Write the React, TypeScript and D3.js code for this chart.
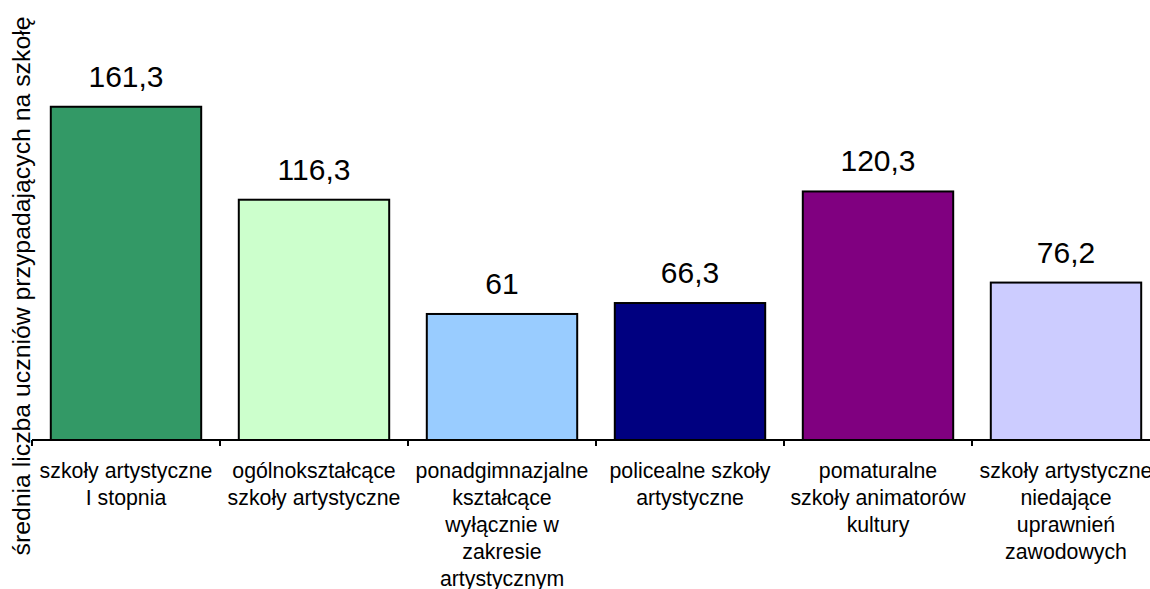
import React from "react";
import * as d3 from "d3";

const categories: string[] = [
  "szkoły artystyczne\nI stopnia",
  "ogólnokształcące\nszkoły artystyczne",
  "ponadgimnazjalne\nkształcące\nwyłącznie w\nzakresie\nartystycznym",
  "policealne szkoły\nartystyczne",
  "pomaturalne\nszkoły animatorów\nkultury",
  "szkoły artystyczne\nniedające\nuprawnień\nzawodowych",
];
const values: number[] = [161.3, 116.3, 61, 66.3, 120.3, 76.2];
const colors: string[] = ["#339966", "#CCFFCC", "#99CCFF", "#000080", "#800080", "#CCCCFF"];
const yTitle = "średnia liczba uczniów przypadających na szkołę";

const W = 1150;
const H = 589;
const FONT = "'Liberation Sans', Arial, sans-serif";

export default function App() {
  const x0 = 32;
  const x1 = 1160;
  const baseY = 440;
  const x = d3
    .scaleBand<string>()
    .domain(categories)
    .range([x0, x1])
    .paddingInner(0.2)
    .paddingOuter(0.1);
  const y = d3.scaleLinear().domain([0, 180]).range([baseY, baseY - 2.066 * 180]);
  const step = x.step();
  const tickXs = d3.range(categories.length + 1).map((i) => x0 + i * step);
  const fmt = (v: number) => String(v).replace(".", ",");

  return (
    <svg
      width={W}
      height={H}
      style={{ position: "absolute", left: 0, top: 0, display: "block", background: "#fff" }}
      fontFamily={FONT}
    >
      <rect x={0} y={0} width={W} height={H} fill="#fff" />
      {categories.map((c, i) => {
        const bx = x(c)!;
        const by = y(values[i]);
        return (
          <g key={i}>
            <rect
              x={bx}
              y={by}
              width={x.bandwidth()}
              height={baseY - by}
              fill={colors[i]}
              stroke="#000"
              strokeWidth={2}
            />
            <text
              x={bx + x.bandwidth() / 2}
              y={by - 20}
              textAnchor="middle"
              fontSize={30}
              fill="#000"
            >
              {fmt(values[i])}
            </text>
            <text textAnchor="middle" fontSize={21.3} fill="#000">
              {c.split("\n").map((line, j) => (
                <tspan key={j} x={bx + x.bandwidth() / 2} y={478 + j * 27}>
                  {line}
                </tspan>
              ))}
            </text>
          </g>
        );
      })}
      <line x1={x0} x2={x1} y1={baseY} y2={baseY} stroke="#000" strokeWidth={2} />
      {tickXs.map((tx, i) => (
        <line key={i} x1={tx} x2={tx} y1={baseY} y2={baseY + 6} stroke="#000" strokeWidth={2} />
      ))}
      <text
        transform={`translate(30,286) rotate(-90)`}
        textAnchor="middle"
        fontSize={24.8}
        fill="#000"
      >
        {yTitle}
      </text>
    </svg>
  );
}
